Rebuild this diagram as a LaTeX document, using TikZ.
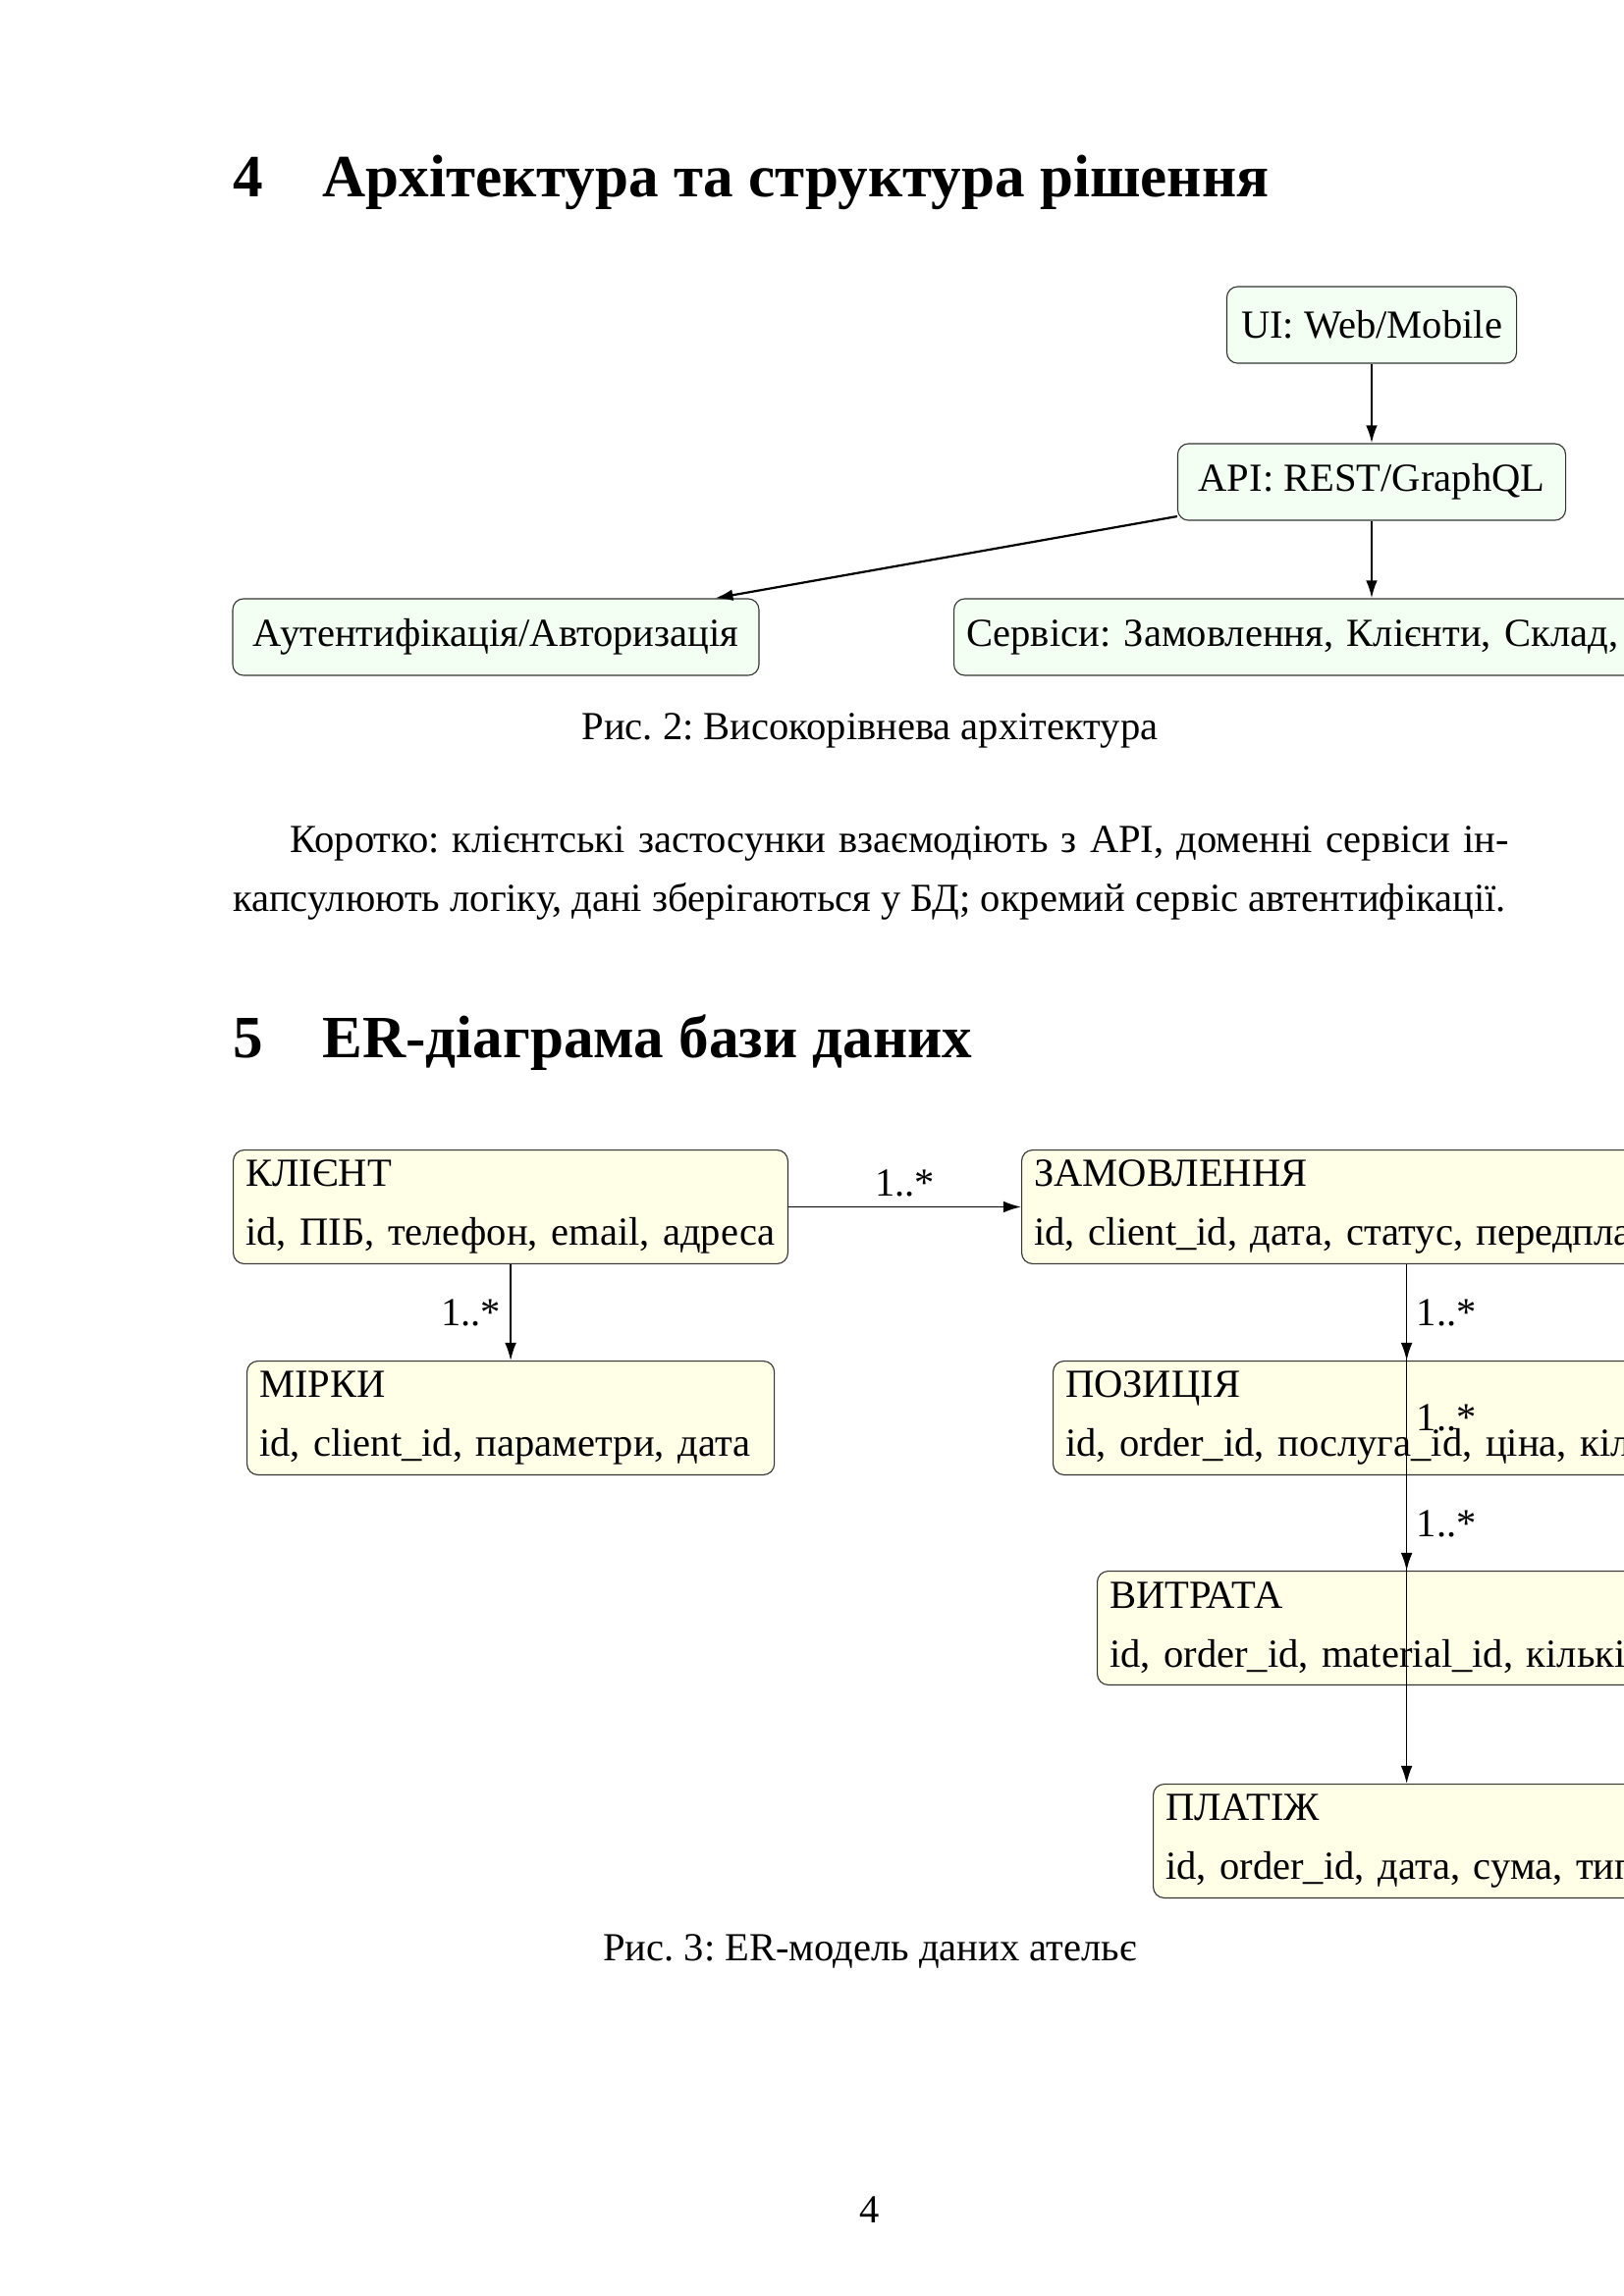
\documentclass[tikz,border=0pt]{standalone}
\usepackage{fontspec}
\setmainfont{Liberation Serif}
\usetikzlibrary{arrows.meta}
\frenchspacing

\newcommand\txtfont{\fontsize{14.6pt}{18pt}\selectfont}
\newcommand\erfont{\fontsize{14.6pt}{21.6pt}\selectfont}
\newcommand\headfont{\fontsize{22pt}{26pt}\selectfont\bfseries}

\tikzset{
  archbox/.style={draw=black!80,rounded corners=4pt,fill=green!5,inner sep=4.5pt,minimum height=28.1pt,font=\txtfont},
  erbox/.style={draw=black!80,rounded corners=4pt,fill=yellow!10,align=left,inner xsep=4.5pt,inner ysep=2pt,minimum height=41.7pt,font=\erfont},
  archarrow/.style={-{Latex[length=6.5pt,width=4.2pt]},line width=0.8pt},
  erarrow/.style={-{Latex[length=6.5pt,width=4.2pt]},line width=0.6pt},
  card/.style={font=\txtfont},
  bodytext/.style={font=\txtfont,inner sep=0pt},
  headtext/.style={font=\headfont,inner sep=0pt}
}

\begin{document}
\begin{tikzpicture}[x=0.3599pt,y=0.3599pt,yscale=-1,xscale=1]
\useasboundingbox (0,0) rectangle (1654,2339);

% Text Node
\node (secarchnum) [headtext,anchor=base west] at (237,200) {4};
% Text Node
\node (secarch) [headtext,anchor=base west] at (328,200) {Архітектура та структура рішення};

%Shape: Rounded Rect
\node (ui) [archbox,minimum width=106.2pt] at (1397,331) {UI: Web/Mobile};
%Shape: Rounded Rect
\node (api) [archbox,minimum width=142.2pt] at (1397,491) {API: REST/GraphQL};
%Shape: Rounded Rect
\node (auth) [archbox,minimum width=192.9pt] at (505,649) {Аутентифікація/Авторизація};
%Shape: Rounded Rect
\node (services) [archbox,anchor=west,text width=297.6pt] at (971,649) {Сервіси: Замовлення, Клієнти, Склад,};

\draw [archarrow] (ui) -- (api);
\draw [archarrow] (api) -- (auth);
\draw [archarrow] (api.south) -- (api.south |- services.north);

% Text Node
\node (caparch) [bodytext,anchor=base] at (886,753) {Рис. 2: Високорівнева архітектура};
% Text Node
\node (paraone) [bodytext,anchor=base west] at (295,868) {\makebox[446.7pt][s]{Коротко: клієнтські застосунки взаємодіють з API, доменні сервіси ін-}};
% Text Node
\node (paratwo) [bodytext,anchor=base west] at (237,928) {капсулюють логіку, дані зберігаються у БД; окремий сервіс автентифікації.};

% Text Node
\node (secernum) [headtext,anchor=base west] at (237,1077) {5};
% Text Node
\node (secer) [headtext,anchor=base west] at (328,1077) {ER-діаграма бази даних};

%Shape: Entity
\node (client) [erbox,anchor=north west,text width=194.3pt] at (237,1171) {\mbox{КЛІЄНТ}\\\mbox{id, ПІБ, телефон, email, адреса}};
%Shape: Entity
\node (order) [erbox,anchor=north west,text width=273.2pt] at (1040,1171) {\mbox{ЗАМОВЛЕННЯ}\\\mbox{id, client\_id, дата, статус, передплата}};
%Shape: Entity
\node (measure) [erbox,anchor=north west,text width=184.3pt] at (251,1386) {\mbox{МІРКИ}\\\mbox{id, client\_id, параметри, дата}};
%Shape: Entity
\node (item) [erbox,anchor=north west,text width=250.1pt] at (1072,1386) {\mbox{ПОЗИЦІЯ}\\\mbox{id, order\_id, послуга\_id, ціна, кількість}};
%Shape: Entity
\node (usage) [erbox,anchor=north west,text width=217.7pt] at (1117,1600) {\mbox{ВИТРАТА}\\\mbox{id, order\_id, material\_id, кількість}};
%Shape: Entity
\node (payment) [erbox,anchor=north west,text width=176.7pt] at (1174,1817) {\mbox{ПЛАТІЖ}\\\mbox{id, order\_id, дата, сума, тип}};

\draw [erarrow] (client) -- (order) node [midway,above,card] {1..*};
\draw [erarrow] (client) -- (measure) node [midway,left,card] {1..*};
\draw [erarrow] (order.south) -- (order.south |- item.north) node [midway,right,card] {1..*};
\draw [erarrow] (order.south) -- (order.south |- usage.north) node [midway,right,card] {1..*};
\draw [erarrow] (order.south) -- (order.south |- payment.north) node [midway,right,card] {1..*};

% Text Node
\node (caper) [bodytext,anchor=base] at (886,1997) {Рис. 3: ER-модель даних ательє};
% Text Node
\node (pagenum) [bodytext,anchor=base] at (886,2264) {4};

\end{tikzpicture}
\end{document}
